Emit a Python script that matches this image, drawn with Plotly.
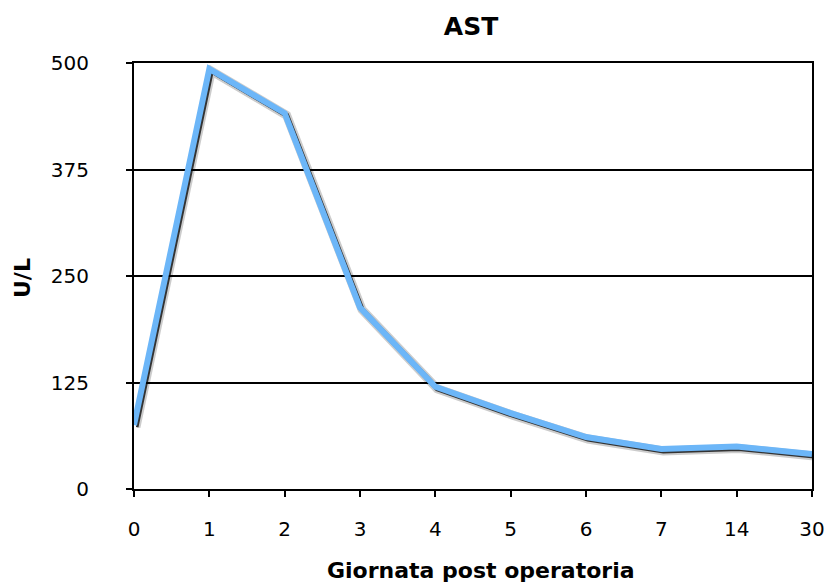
import plotly.graph_objects as go

days = ["0", "1", "2", "3", "4", "5", "6", "7", "14", "30"]
ast_values = [75, 493, 441, 213, 120, 89, 61, 47, 50, 41]
y_ticks = [0, 125, 250, 375, 500]

font_family = "Verdana, DejaVu Sans, sans-serif"

W, H = 827, 586

# target plot-frame in page pixels
left, right, top, bottom = 134, 812, 63, 489
ml = left
mt = top
pw = (right - left) + 3
ph = (bottom - top) + 3
mr = W - ml - pw
mb = H - mt - ph
sx = 3.0 / pw
sy = 3.0 / ph


def px_to_paper_x(x):
    return (x - left) / pw


def px_to_paper_y(y):
    return 1 - (y - top) / ph


fig = go.Figure()

# soft drop shadow (drawn first, on slightly shifted hidden axes)
fig.add_trace(go.Scatter(
    x=days, y=ast_values, mode="lines",
    line=dict(color="rgba(0,0,0,0.2)", width=9),
    xaxis="x", yaxis="y", hoverinfo="skip", showlegend=False,
))
fig.add_trace(go.Scatter(
    x=days, y=ast_values, mode="lines",
    line=dict(color="rgba(0,0,0,0.75)", width=5),
    xaxis="x", yaxis="y", hoverinfo="skip", showlegend=False,
))
# main line on the visible frame axes
fig.add_trace(go.Scatter(
    x=days, y=ast_values, mode="lines",
    line=dict(color="#6CB6F8", width=6),
    xaxis="x2", yaxis="y2", showlegend=False,
))

hidden = dict(visible=False, showgrid=False, zeroline=False, automargin=False)

fig.update_layout(
    width=W, height=H,
    margin=dict(l=ml, r=mr, t=mt, b=mb, autoexpand=False),
    paper_bgcolor="white", plot_bgcolor="rgba(0,0,0,0)",
    font=dict(family=font_family, size=20, color="black"),
    title=dict(text="<b>AST</b>", x=471 / W, xanchor="center",
               y=1 - 26 / H, yanchor="middle",
               font=dict(size=25, family=font_family, color="black")),
    xaxis=dict(type="category", range=[0, 9], domain=[2.0 / pw, 1 - 1.0 / pw], anchor="y", **hidden),
    yaxis=dict(range=[0, 500], domain=[1.0 / ph, 1 - 2.0 / ph], anchor="x", **hidden),
    xaxis2=dict(
        type="category", range=[0, 9], domain=[0, 1 - sx], anchor="y2",
        showgrid=False, showline=True, linecolor="black", linewidth=2, mirror=True,
        ticks="outside", ticklen=6, tickwidth=2, tickcolor="black",
        tickfont=dict(size=20), ticklabelstandoff=15,
        zeroline=False, automargin=False,
    ),
    yaxis2=dict(
        range=[0, 500], domain=[sy, 1], tickvals=y_ticks, anchor="x2",
        showgrid=True, gridcolor="black", gridwidth=2,
        showline=True, linecolor="black", linewidth=2, mirror=True,
        ticks="outside", ticklen=6, tickwidth=2, tickcolor="black",
        tickfont=dict(size=20), ticklabelstandoff=33,
        zeroline=False, automargin=False,
    ),
    annotations=[
        dict(text="<b>Giornata post operatoria</b>", xref="paper", yref="paper",
             x=px_to_paper_x(481), y=px_to_paper_y(570), xanchor="center", yanchor="middle",
             showarrow=False, font=dict(size=22, family=font_family)),
        dict(text="<b>U/L</b>", xref="paper", yref="paper",
             x=px_to_paper_x(22), y=px_to_paper_y(278), xanchor="center", yanchor="middle",
             textangle=-90, showarrow=False, font=dict(size=22, family=font_family)),
    ],
)

fig.write_html(
    "out.html",
    config={"displayModeBar": False},
    post_script="document.body.style.margin='0px';document.body.style.overflow='hidden';",
)
